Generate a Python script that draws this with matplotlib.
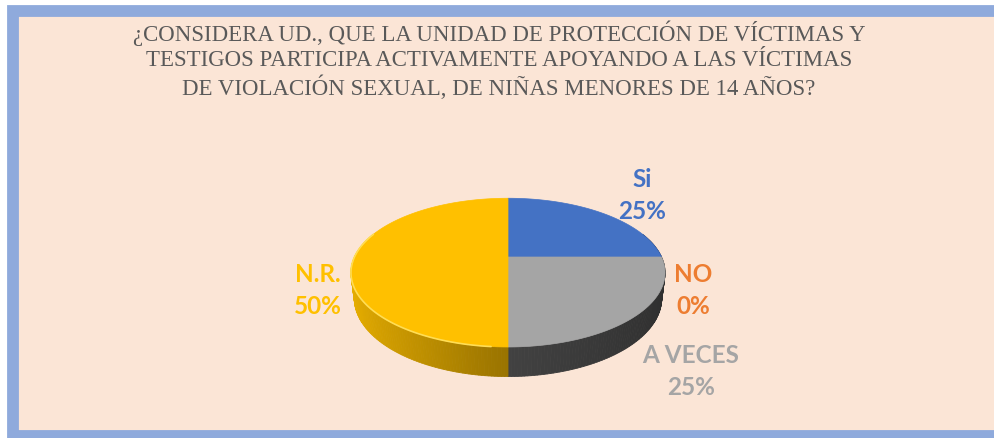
import numpy as np
import matplotlib.pyplot as plt
from matplotlib.patches import Polygon, Rectangle
from matplotlib.colors import to_rgb

labels = ["Si", "NO", "A VECES", "N.R."]
values = [25, 0, 25, 50]
colors = ["#4472C4", "#ED7D31", "#A5A5A5", "#FFC000"]
title_lines = [
    "¿CONSIDERA UD., QUE LA UNIDAD DE PROTECCIÓN DE VÍCTIMAS Y",
    "TESTIGOS PARTICIPA ACTIVAMENTE APOYANDO A LAS VÍCTIMAS",
    "DE VIOLACIÓN SEXUAL, DE NIÑAS MENORES DE 14 AÑOS?",
]

# perspective camera for the 3d pie (pixel space)
cx, cy, k = 508, 258, 648
D, s, c, h = 4.22, 0.463, 0.886, 0.19


def proj(a, y):
    # a: degrees clockwise from 12 o'clock, y: height (0 top, -h bottom)
    x = np.sin(np.radians(a))
    z = -np.cos(np.radians(a))
    depth = D - s * y - c * z
    return cx + k * x / depth, cy - k * (c * y - s * z) / depth


def shade(a, col):
    x = np.sin(np.radians(a))
    f = 0.6 - 0.32 * x if x <= 0 else 0.4 - 0.12 * x
    return tuple(min(1, v * f) for v in to_rgb(col))


fig = plt.figure(figsize=(9.95, 4.39), dpi=100)
fig.patch.set_facecolor("white")
ax = fig.add_axes([0, 0, 1, 1])
ax.set_xlim(0, 995)
ax.set_ylim(439, 0)
ax.axis("off")

ax.add_patch(Rectangle((13, 12), 1100, 425, facecolor="#FBE5D6",
                       edgecolor="#8FAADC", lw=8.5))

total = sum(values)
bounds = np.concatenate([[0], np.cumsum(values)]) * 360 / total

# side wall, far to near
segs = []
for i, v in enumerate(values):
    if v == 0:
        continue
    for a in np.arange(bounds[i], bounds[i + 1], 1.0):
        segs.append((a, min(a + 1.0, bounds[i + 1]), colors[i]))
segs.sort(key=lambda t: -np.cos(np.radians((t[0] + t[1]) / 2)))
for a, a2, col in segs:
    if np.cos(np.radians((a + a2) / 2)) > 0.35:
        continue
    p = [proj(a, 0), proj(a2, 0), proj(a2, -h), proj(a, -h)]
    sc = shade((a + a2) / 2, col)
    ax.add_patch(Polygon(p, closed=True, facecolor=sc, edgecolor=sc, lw=0.6))

# top face
for i, v in enumerate(values):
    if v == 0:
        continue
    arc = np.linspace(bounds[i], bounds[i + 1], 120)
    pts = [(cx, cy)] + [proj(a, 0) for a in arc]
    ax.add_patch(Polygon(pts, closed=True, facecolor=colors[i],
                         edgecolor=colors[i], lw=0.5))

# light rim on the near yellow edge
rim = np.linspace(185, 290, 60)
rx, ry = zip(*[proj(a, 0) for a in rim])
ax.plot(rx, ry, color="#FFDD55", lw=1.2, solid_capstyle="round")

# data labels
lab_pos = {"Si": (642, 180, 212), "NO": (693, 275, 307),
           "A VECES": (691, 356, 388), "N.R.": (318, 275, 307)}
for lab, v, col in zip(labels, values, colors):
    x, y1, y2 = lab_pos[lab]
    for txt, yy in [(lab, y1), (f"{v}%", y2)]:
        ax.text(x, yy, txt, ha="center", va="center", color=col,
                fontsize=17.5, fontweight="bold", family="Lato")

for line, yy in zip(title_lines, [33, 60, 88]):
    ax.text(499, yy, line, ha="center", va="center", color="#595959",
            fontsize=16.5, family="Liberation Serif")

fig.savefig("out.png", dpi=100)
